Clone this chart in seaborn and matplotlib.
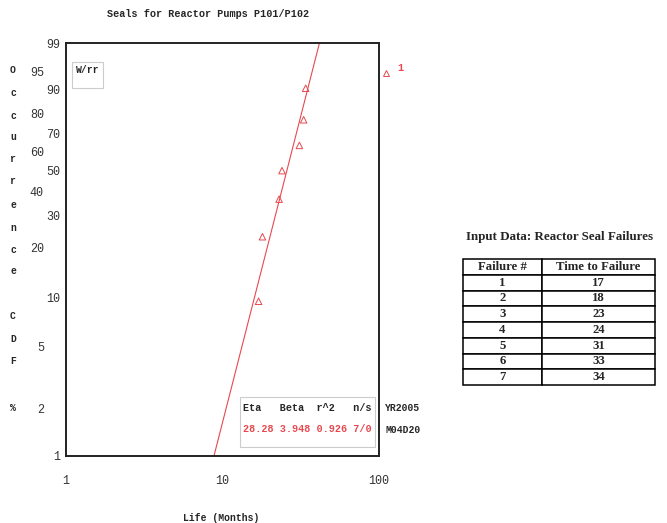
import numpy as np
import pandas as pd
import matplotlib
matplotlib.use("Agg")
import matplotlib.pyplot as plt
import seaborn as sns

sns.set_style("white")
plt.rcParams['font.family'] = ['Liberation Mono', 'DejaVu Sans Mono']

# data
failure_no = [1, 2, 3, 4, 5, 6, 7]
life_months = [17, 18, 23, 24, 31, 33, 34]
cdf_pct = [9.5, 22.9, 36.5, 50.0, 63.5, 77.1, 90.5]   # median ranks
eta, beta, r2, ns = 28.28, 3.948, 0.926, "7/0"
y_ticks = [99, 95, 90, 80, 70, 60, 50, 40, 30, 20, 10, 5, 2, 1]
y_ticks_far = [95, 80, 60, 40, 20, 5, 2]   # labels that sit further left
x_ticks = [1, 10, 100]

red = "#e8484f"


def wb(p):
    # weibull paper transform of percent
    f = np.asarray(p, dtype=float) / 100.0
    return np.log(-np.log(1.0 - f))


pts = pd.DataFrame({"life": life_months, "w": wb(cdf_pct)})
t_fit = np.array([1.0, 100.0])
fit = pd.DataFrame({"life": t_fit, "w": beta * (np.log(t_fit) - np.log(eta))})

fig = plt.figure(figsize=(6.67, 5.23), dpi=100)
ax = fig.add_axes([66/667, 1 - 456/523, 313/667, 413/523])

sns.lineplot(data=fit, x="life", y="w", color=red, lw=0.8, ax=ax)
sns.scatterplot(data=pts, x="life", y="w", marker="^", s=22, facecolor="none",
                edgecolor=red, linewidth=0.7, ax=ax)

ax.set_xscale("log")
ax.set_xlim(1, 100)
ax.set_ylim(wb(1), wb(99))
ax.set_xlabel("")
ax.set_ylabel("")
for s in ax.spines.values():
    s.set_linewidth(1.4)
    s.set_color("#222222")

ax.set_xticks(x_ticks)
ax.set_xticklabels([str(v) for v in x_ticks], fontsize=8.5, color="#333333")
ax.xaxis.set_minor_locator(matplotlib.ticker.NullLocator())
ax.tick_params(axis="x", length=0, pad=14)

ax.set_yticks(wb(y_ticks))
ax.set_yticklabels([str(v) for v in y_ticks], fontsize=8.5, color="#333333")
ax.tick_params(axis="y", length=0)
for v, t in zip(y_ticks, ax.yaxis.get_major_ticks()):
    t.set_pad(16 if v in y_ticks_far else 4)

fig.text(208/667, 1 - 14/523, "Seals for Reactor Pumps P101/P102", fontsize=7.3,
         fontweight="bold", ha="center", va="center")
fig.text(221/667, 1 - 518/523, "Life (Months)", fontsize=7, fontweight="bold",
         ha="center", va="center")

# vertical axis title, one letter per line
letters = [("O", 70), ("c", 93), ("c", 116), ("u", 137), ("r", 159), ("r", 181),
           ("e", 205), ("n", 228), ("c", 250), ("e", 271), ("C", 316), ("D", 339),
           ("F", 361), ("%", 408)]
for ch, yy in letters:
    fig.text(13/667, 1 - yy/523, ch, fontsize=7, fontweight="bold",
             ha="center", va="center")

# W/rr box
fig.patches.append(plt.Rectangle((72/667, 1 - 88/523), 31/667, 26/523,
                                 transform=fig.transFigure, fill=False,
                                 ec="#cccccc", lw=0.8))
fig.text(76/667, 1 - 70/523, "W/rr", fontsize=7, fontweight="bold", ha="left", va="center")

# stats box
fig.patches.append(plt.Rectangle((240/667, 1 - 447/523), 135/667, 50/523,
                                 transform=fig.transFigure, fc="white",
                                 ec="#cccccc", lw=0.8, zorder=5))
fig.text(243/667, 1 - 408/523, "Eta   Beta  r^2   n/s", fontsize=7.3, fontweight="bold",
         ha="left", va="center", zorder=6)
fig.text(243/667, 1 - 429/523, f"{eta:.2f} {beta:.3f} {r2:.3f} {ns}", fontsize=7.3,
         fontweight="bold", color=red, ha="left", va="center", zorder=6)
fig.text(385/667, 1 - 408/523, "YR2005", fontsize=7, fontweight="bold", ha="left", va="center")
fig.text(385/667, 1 - 430/523, "M04D20", fontsize=7, fontweight="bold", ha="left", va="center")

# legend marker outside
fig.lines.append(matplotlib.lines.Line2D([386/667], [1 - 73/523], marker="^", ms=5,
                                         mfc="none", mec=red, mew=0.7, ls="none",
                                         transform=fig.transFigure))
fig.text(397/667, 1 - 68/523, "1", fontsize=7.5, fontweight="bold", color=red,
         ha="left", va="center")

# input data table
fig.text(560/667, 1 - 237/523, "Input Data: Reactor Seal Failures", fontsize=9.4,
         fontweight="bold", family="Liberation Serif", ha="center", va="center")
tax = fig.add_axes([463/667, 1 - 385/523, 192/667, 126/523])
tax.axis("off")
cells = [[str(a), str(b)] for a, b in zip(failure_no, life_months)]
tbl = tax.table(cellText=cells, colLabels=["Failure #", "Time to Failure"],
                cellLoc="center", colWidths=[79/192, 113/192], bbox=[0, 0, 1, 1])
tbl.auto_set_font_size(False)
for (r, c), cell in tbl.get_celld().items():
    cell.set_linewidth(1.1)
    cell.set_edgecolor("black")
    cell.get_text().set_fontsize(9.2)
    cell.get_text().set_fontweight("bold")
    cell.get_text().set_fontfamily("Liberation Serif")

fig.savefig("out.png", dpi=100)
